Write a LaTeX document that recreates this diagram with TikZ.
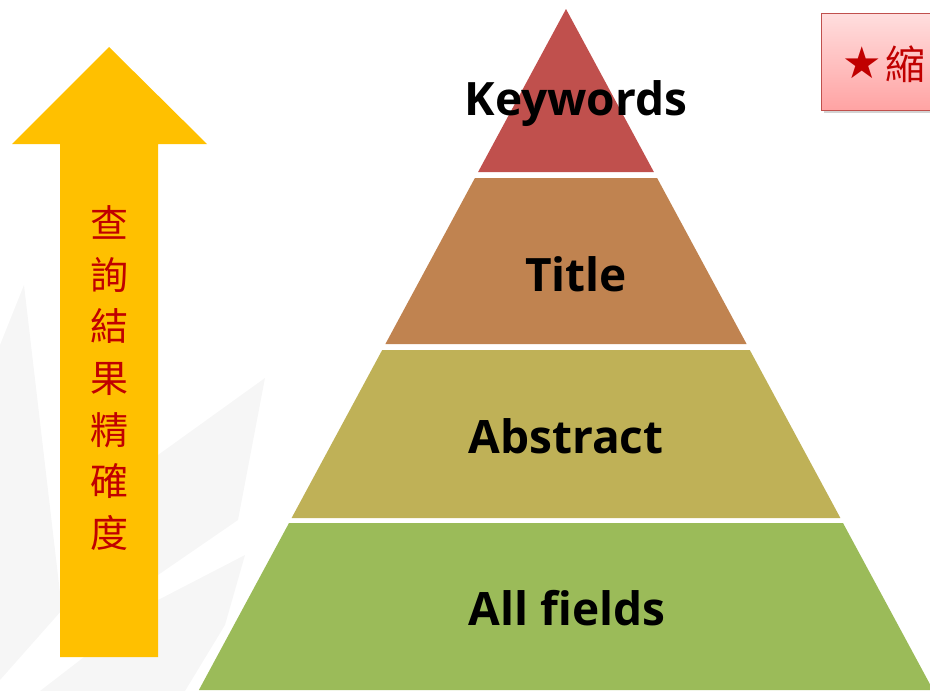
\documentclass[tikz,border=0pt]{standalone}
\usepackage{fontspec}
\setmainfont{Open Sans}
\newfontfamily\cjk{Noto Sans CJK TC}
\newfontfamily\sym{DejaVu Sans}
\usetikzlibrary{shadows}
\definecolor{arrowc}{HTML}{FFC000}
\definecolor{txtred}{HTML}{C00000}
\definecolor{lay1}{RGB}{192,80,77}
\definecolor{lay2}{RGB}{192,131,80}
\definecolor{lay3}{RGB}{191,177,87}
\definecolor{lay4}{RGB}{155,187,89}
\definecolor{bgpoly}{RGB}{246,246,246}
\definecolor{boxtop}{RGB}{255,222,222}
\definecolor{boxbot}{RGB}{255,163,163}
\definecolor{boxline}{RGB}{192,80,77}
\tikzset{
  layerlabel/.style={anchor=base, text=black, inner sep=0pt, font=\bfseries\fontsize{46}{50}\selectfont},
  bgshape/.style={fill=bgpoly},
}
\begin{document}
\begin{tikzpicture}[x=1pt,y=-1pt]
\useasboundingbox (0,0) rectangle (930,691);
\begin{scope}
\clip (0,0) rectangle (930,691);
% faint background shapes
\fill[bgshape] (0,345) -- (24,285) -- (62,610) -- (0,680) -- cycle;
\fill[bgshape] (158,455) -- (265,378) -- (238,520) -- (158,575) -- cycle;
\fill[bgshape] (40,691) -- (158,600) -- (245,555) -- (225,625) -- (185,691) -- cycle;
% arrow
\fill[arrowc] (109,47) -- (207,144) -- (158,144) -- (158,657) -- (60,657) -- (60,144) -- (12,144) -- cycle;
\node[text=txtred, align=center, inner sep=0pt, font=\cjk\fontsize{38}{51.7}\selectfont] (vtext) at (109,378)
  {查\\詢\\結\\果\\精\\確\\度};
% pyramid
\fill[lay1] (566,9) -- (653.9,172) -- (478.1,172) -- cycle;
\fill[lay2] (474.9,178) -- (657.1,178) -- (746.6,344) -- (385.4,344) -- cycle;
\fill[lay3] (382.2,350) -- (749.8,350) -- (840.4,518) -- (291.6,518) -- cycle;
\fill[lay4] (289,523) -- (843,523) -- (933.1,690) -- (198.9,690) -- cycle;
\node[layerlabel] (kw) at (576,115) {Keywords};
\node[layerlabel] (ti) at (576,291) {Title};
\node[layerlabel] (ab) at (566,453) {Abstract};
\node[layerlabel] (af) at (567,625) {All fields};
% hint box
\shade[top color=boxtop, bottom color=boxbot, draw=boxline, line width=1pt,
  drop shadow={shadow xshift=3pt, shadow yshift=-3pt, opacity=0.35}] (821,13) rectangle (960,110);
\node[inner sep=0pt, text=txtred, font=\sym\fontsize{44}{46}\selectfont] (star) at (862,63) {★};
\node[anchor=west, inner sep=0pt, text=txtred, font=\cjk\fontsize{40}{42}\selectfont] (hint) at (885,64) {縮};
\end{scope}
\end{tikzpicture}
\end{document}
